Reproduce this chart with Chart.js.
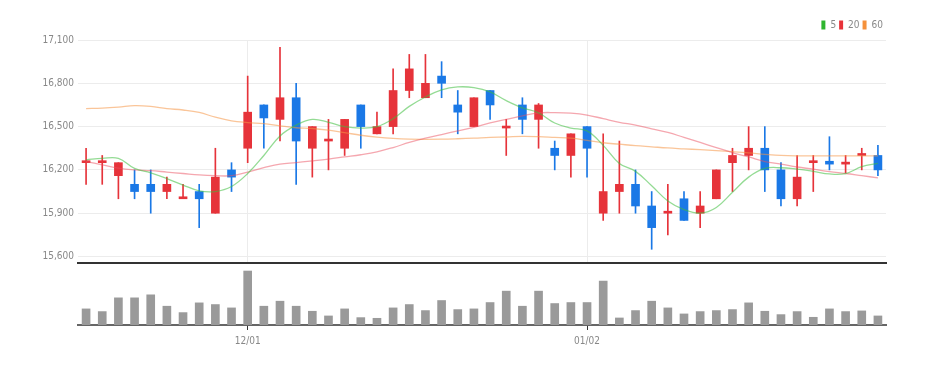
<!DOCTYPE html>
<html>
<head>
<meta charset="utf-8">
<script src="https://cdn.jsdelivr.net/npm/chart.js"></script>
<style>
  body { margin: 0; background: #fff; }
  #wrap { position: relative; width: 938px; height: 365px; }
  #price { position: absolute; left: 0; top: 0; }
  #vol { position: absolute; left: 0; top: 264px; }
</style>
</head>
<body>
<div id="wrap">
  <canvas id="price" width="938" height="273"></canvas>
  <canvas id="vol" width="938" height="101"></canvas>
</div>
<script>
// trading days, MM/DD
var labels = ['11/17','11/18','11/21','11/22','11/23','11/24','11/25','11/28','11/29','11/30',
  '12/01','12/02','12/05','12/06','12/07','12/08','12/09','12/12','12/13','12/14',
  '12/15','12/16','12/19','12/20','12/21','12/22','12/23','12/26','12/27','12/28','12/29',
  '01/02','01/03','01/04','01/05','01/06','01/09','01/10','01/11','01/12','01/13',
  '01/16','01/17','01/18','01/19','01/20','01/25','01/26','01/27','01/30'];
var shownLabels = ['12/01', '01/02'];

var opens  = [16250,16250,16160,16100,16100,16050,16000,16050,15900,16200,
              16350,16650,16550,16700,16350,16400,16350,16650,16450,16500,
              16750,16700,16850,16650,16500,16750,16490,16650,16550,16350,
              16300,16500,15900,16050,16100,15950,15900,16000,15900,16000,
              16250,16300,16350,16200,16000,16250,16260,16240,16300,16300];
var highs  = [16350,16300,16250,16200,16200,16150,16100,16100,16350,16250,
              16850,16650,17050,16800,16500,16550,16550,16650,16600,16900,
              17000,17000,16950,16750,16700,16750,16550,16700,16660,16400,
              16450,16500,16450,16400,16200,16050,16100,16050,16050,16200,
              16350,16500,16500,16250,16300,16300,16430,16300,16350,16370];
var lows   = [16100,16100,16000,16000,15900,16000,16000,15800,15900,16050,
              16250,16350,16400,16100,16150,16200,16300,16350,16450,16450,
              16700,16700,16700,16450,16500,16550,16300,16450,16350,16200,
              16150,16150,15850,15900,15900,15650,15750,15850,15800,16000,
              16050,16200,16050,15950,15950,16050,16200,16180,16200,16160];
var closes = [16260,16260,16250,16050,16050,16100,16000,16000,16150,16150,
              16600,16560,16700,16400,16500,16400,16550,16500,16500,16750,
              16900,16800,16800,16600,16700,16650,16500,16550,16650,16300,
              16450,16350,16050,16100,15950,15800,15900,15850,15950,16200,
              16300,16350,16200,16000,16150,16250,16240,16240,16300,16200];

var ma5  = [16270,16280,16280,16210,16180,16140,16095,16055,16050,16085,
            16175,16300,16435,16510,16550,16530,16500,16490,16500,16555,
            16640,16705,16755,16775,16770,16740,16680,16630,16595,16525,
            16490,16470,16370,16245,16190,16090,15985,15925,15900,15940,
            16045,16150,16210,16215,16205,16190,16172,16175,16222,16246];
var ma20 = [16258,16235,16212,16200,16195,16185,16175,16165,16160,16160,
            16185,16215,16240,16250,16262,16275,16290,16305,16325,16355,
            16390,16420,16445,16470,16495,16525,16550,16575,16595,16597,
            16593,16580,16555,16530,16510,16485,16460,16425,16390,16355,
            16320,16290,16258,16240,16220,16205,16188,16175,16160,16145];
var ma60 = [16625,16628,16635,16645,16640,16625,16615,16598,16565,16540,
            16528,16520,16505,16492,16487,16475,16458,16440,16427,16418,
            16413,16412,16413,16416,16420,16425,16428,16432,16430,16425,
            16420,16405,16388,16378,16368,16360,16352,16346,16340,16333,
            16326,16318,16308,16300,16297,16297,16297,16297,16297,16297];

// volume (thousand shares)
var volumes = [48,40,81,81,90,56,37,66,61,51,
               161,56,71,56,41,27,48,22,20,51,
               61,43,73,46,48,67,101,56,101,64,
               67,67,131,21,43,71,51,33,40,43,
               46,66,41,31,40,23,48,40,42,27];

var yTicks = [15600, 15900, 16200, 16500, 16800, 17100];

var UP = '#e6333a', DOWN = '#1a78e6';
var FONT = "'Liberation Sans Narrow','DejaVu Sans Condensed','Liberation Sans',sans-serif";
Chart.defaults.font.family = FONT;

var candleColors = [];
var bodies = [], wicks = [];
for (var i = 0; i < labels.length; i++) {
  candleColors.push(closes[i] >= opens[i] ? UP : DOWN);
  bodies.push([opens[i], closes[i]]);
  wicks.push([lows[i], highs[i]]);
}

function isShown(idx) { return shownLabels.indexOf(labels[idx]) >= 0; }

new Chart(document.getElementById('price').getContext('2d'), {
  type: 'bar',
  data: {
    labels: labels,
    datasets: [
      { type: 'line', label: '5', data: ma5, borderColor: 'rgba(60,190,60,0.55)', backgroundColor: '#2fb52f',
        borderWidth: 1.3, pointRadius: 0, tension: 0.4, order: 0 },
      { type: 'line', label: '20', data: ma20, borderColor: 'rgba(236,80,95,0.5)', backgroundColor: '#e8333a',
        borderWidth: 1.3, pointRadius: 0, tension: 0.4, order: 0 },
      { type: 'line', label: '60', data: ma60, borderColor: 'rgba(246,150,70,0.55)', backgroundColor: '#f5913b',
        borderWidth: 1.3, pointRadius: 0, tension: 0.4, order: 0 },
      { label: 'body', data: bodies, backgroundColor: candleColors, barThickness: 8,
        minBarLength: 2, grouped: false, order: 1 },
      { label: 'wick', data: wicks, backgroundColor: candleColors, barThickness: 1,
        grouped: false, order: 2 }
    ]
  },
  options: {
    responsive: false,
    animation: false,
    layout: { padding: { left: 0, right: 52, top: 17, bottom: 1 } },
    plugins: {
      tooltip: { enabled: false },
      legend: {
        position: 'top',
        align: 'end',
        labels: {
          boxWidth: 4, boxHeight: 9, padding: 3,
          color: '#888', font: { size: 10, family: FONT },
          filter: function (item) { return ['5', '20', '60'].indexOf(item.text) >= 0; },
          generateLabels: function (chart) {
            return chart.data.datasets.map(function (ds, k) {
              return { text: ds.label, fillStyle: ds.backgroundColor, strokeStyle: ds.backgroundColor,
                       lineWidth: 0, datasetIndex: k, hidden: false, fontColor: '#888' };
            });
          }
        }
      }
    },
    scales: {
      x: {
        offset: true,
        grid: {
          offset: false, drawTicks: false,
          color: function (c) { return isShown(c.index) ? '#ececec' : 'rgba(0,0,0,0)'; }
        },
        border: { display: true, color: '#333', width: 2 },
        ticks: { display: false, autoSkip: false }
      },
      y: {
        min: 15555, max: 17100,
        afterBuildTicks: function (scale) {
          scale.ticks = yTicks.map(function (v) { return { value: v }; });
        },
        afterFit: function (scale) { scale.width = 78; },
        grid: { color: '#ececec', drawTicks: false },
        border: { display: false },
        ticks: {
          padding: 4, color: '#888', font: { size: 10, family: FONT },
          callback: function (v) { return Number(v).toLocaleString('en-US'); }
        }
      }
    }
  }
});

new Chart(document.getElementById('vol').getContext('2d'), {
  type: 'bar',
  data: {
    labels: labels,
    datasets: [
      { label: 'volume', data: volumes, backgroundColor: '#9a9a9a', barThickness: 8 }
    ]
  },
  options: {
    responsive: false,
    animation: false,
    layout: { padding: { left: 78, right: 52, top: 4, bottom: 13 } },
    plugins: { legend: { display: false }, tooltip: { enabled: false } },
    scales: {
      x: {
        offset: true,
        grid: {
          offset: false, drawOnChartArea: false, drawTicks: true, tickLength: 5,
          tickColor: function (c) { return isShown(c.index) ? '#333' : 'rgba(0,0,0,0)'; }
        },
        border: { display: true, color: '#666', width: 2 },
        ticks: {
          autoSkip: false, maxRotation: 0, padding: 5,
          color: '#888', font: { size: 10, family: FONT },
          callback: function (v, idx) { return isShown(idx) ? labels[idx] : ''; }
        }
      },
      y: { display: false, min: 0, max: 170 }
    }
  }
});
</script>
</body>
</html>
